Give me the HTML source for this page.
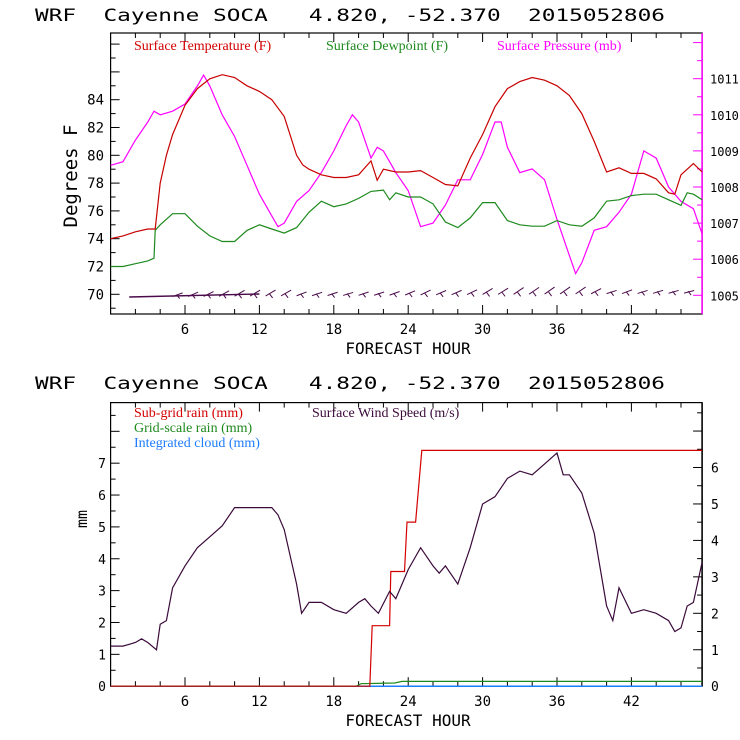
<!DOCTYPE html>
<html><head><meta charset="utf-8"><style>
html,body{margin:0;padding:0;background:#fff;}
svg{display:block;}
.t{font-family:"DejaVu Sans Mono","Liberation Mono",monospace;white-space:pre;}
.s{font-family:"Liberation Serif",serif;}
</style></head><body>
<svg id="c" width="740" height="740" viewBox="0 0 740 740" xmlns="http://www.w3.org/2000/svg">
<text class="t" x="35" y="21" font-size="17" fill="#000" xml:space="preserve" textLength="630" lengthAdjust="spacingAndGlyphs">WRF  Cayenne SOCA   4.820, -52.370  2015052806</text>
<text class="t" x="35" y="389" font-size="17" fill="#000" xml:space="preserve" textLength="630" lengthAdjust="spacingAndGlyphs">WRF  Cayenne SOCA   4.820, -52.370  2015052806</text>
<g id="top"></g>
<g id="bot"></g>
</svg>
<script>
// ---- Top panel data ----
const tempHours=[0,1,2,3,3.6,4,4.5,5,6,7,8,9,10,11,12,13,14,15,15.5,16,17,18,19,20,21,21.5,22,23,24,25,26,27,28,29,30,31,32,33,34,35,36,37,38,39,40,41,42,43,44,45,45.5,46,47,47.7];
const tempVals=[74.0,74.2,74.5,74.7,74.7,78,80,81.5,83.6,84.8,85.5,85.8,85.6,85,84.6,84,82.8,80,79.3,79,78.6,78.4,78.4,78.6,79.6,78.2,79,78.8,78.8,78.9,78.4,77.9,77.8,79.8,81.5,83.5,84.8,85.3,85.6,85.4,85,84.3,83,81,78.8,79.1,78.7,78.7,78.3,77.3,77.2,78.6,79.4,78.8];
const dewHours=[0,1,2,3,3.5,3.6,4,5,6,7,8,9,10,11,12,13,14,15,16,17,18,19,20,21,22,22.5,23,24,25,26,27,28,29,30,31,32,33,34,35,36,37,38,39,40,41,42,43,44,45,46,46.5,47,47.7];
const dewVals=[72,72,72.2,72.4,72.6,74.6,75,75.8,75.8,74.9,74.2,73.8,73.8,74.6,75,74.7,74.4,74.8,75.9,76.7,76.3,76.5,76.9,77.4,77.5,76.8,77.3,77,77,76.5,75.2,74.8,75.5,76.6,76.6,75.3,75,74.9,74.9,75.3,75,74.9,75.5,76.7,76.8,77.1,77.2,77.2,76.8,76.4,77.3,77.2,76.8];
const presHours=[0,1,2,3,3.5,4,5,6,7,7.5,8,9,10,11,12,13,13.5,14,15,16,17,18,19,19.5,20,21,21.5,22,23,24,25,26,27,28,29,30,31,31.5,32,33,34,35,36,37,37.5,38,39,40,41,42,43,44,45,46,47,47.7];
const presVals=[1008.6,1008.7,1009.3,1009.8,1010.1,1010.0,1010.1,1010.3,1010.8,1011.1,1010.8,1010,1009.4,1008.6,1007.8,1007.2,1006.9,1007,1007.6,1007.9,1008.4,1009.0,1009.7,1010.0,1009.8,1008.8,1009.1,1009.0,1008.4,1007.9,1006.9,1007,1007.5,1008.2,1008.2,1008.9,1009.8,1009.8,1009.1,1008.4,1008.5,1008.2,1007.1,1006.1,1005.6,1005.9,1006.8,1006.9,1007.3,1007.8,1009.0,1008.8,1008.0,1007.6,1007.4,1006.7];
const tempTicks=[70,72,74,76,78,80,82,84];
const presTicks=[1005,1006,1007,1008,1009,1010,1011];
const hourTicks=[6,12,18,24,30,36,42];
// ---- Bottom panel data ----
const windHours=[0,1,2,2.5,3,3.7,4,4.5,5,6,7,8,9,10,11,12,13,13.5,14,15,15.4,16,17,18,19,20,20.5,21,21.6,22.5,23,24,25,26,26.5,27,28,29,30,31,32,33,34,35,36,36.5,37,38,39,40,40.5,41,42,43,44,45,45.5,46,46.5,47,47.7];
const windVals=[1.1,1.1,1.2,1.3,1.2,1.0,1.7,1.8,2.7,3.3,3.8,4.1,4.4,4.9,4.9,4.9,4.9,4.7,4.3,2.8,2.0,2.3,2.3,2.1,2.0,2.3,2.4,2.2,2.0,2.6,2.4,3.2,3.8,3.3,3.1,3.3,2.8,3.8,5.0,5.2,5.7,5.9,5.8,6.1,6.4,5.8,5.8,5.3,4.2,2.2,1.8,2.7,2.0,2.1,2.0,1.8,1.5,1.6,2.2,2.3,3.4];
const subHours=[0,20.9,21.1,22.5,22.6,23.7,23.9,24.6,25.1,47.7];
const subVals=[0,0,1.9,1.9,3.6,3.6,5.15,5.15,7.4,7.4];
const gridHours=[0,19.8,20.2,22.9,23.5,47.7];
const gridVals=[0,0,0.08,0.1,0.15,0.15];
const cloudHours=[0,47.7];
const cloudVals=[0,0];
const mmTicks=[0,1,2,3,4,5,6,7];
const windTicks=[0,1,2,3,4,5,6];

const NS='http://www.w3.org/2000/svg';
function mk(parent,tag,attrs){const e=document.createElementNS(NS,tag);for(const k in attrs)e.setAttribute(k,attrs[k]);parent.appendChild(e);return e;}
const X0=110.6,PXH=12.4,XMAX=47.7;
const xh=h=>X0+h*PXH;
const xR=xh(XMAX);
function poly(g,hs,vs,yf,color,name,w){
  const pts=hs.map((h,i)=>xh(h).toFixed(1)+','+yf(vs[i]).toFixed(1)).join(' ');
  const p=mk(g,'polyline',{points:pts,fill:'none',stroke:color,'stroke-width':w||1.2});
  
  
  return p;
}
function panel(g,top,bot,rightColor){
  const f=mk(g,'rect',{x:X0,y:top,width:xR-X0,height:bot-top,fill:'none',stroke:'#000','stroke-width':1.2});
  
  
  const r=mk(g,'line',{x1:xR,y1:top,x2:xR,y2:bot,stroke:rightColor,'stroke-width':1.5});
  
  
  for(let h=2;h<XMAX;h+=2){
    const L=(h%6===0)?9:5;
    mk(g,'line',{x1:xh(h),y1:bot,x2:xh(h),y2:bot-L,stroke:'#000'});
    mk(g,'line',{x1:xh(h),y1:top,x2:xh(h),y2:top+L,stroke:'#000'});
  }
  hourTicks.forEach(h=>{
    const t=mk(g,'text',{x:xh(h),y:bot+20,'font-size':14,'text-anchor':'middle',class:'t'});
    t.textContent=h;
    
    
  });
  const xl=mk(g,'text',{x:408,y:bot+40,'font-size':16,'text-anchor':'middle',class:'t'});
  xl.textContent='FORECAST HOUR';
  
  
}
// ---- top panel ----
(function(){
  const g=document.getElementById('top');
  const TOP=33,BOT=314;
  const yT=v=>294.3-(v-70)*13.9;
  const yP=v=>295.3-(v-1005)*36.1;
  panel(g,TOP,BOT,'#ff00ff');
  for(let v=68;v<=88;v++){const y=yT(v);if(y<TOP+2||y>BOT-2)continue;
    mk(g,'line',{x1:X0,y1:y,x2:X0+(v%2===0?9:5),y2:y,stroke:'#000'});}
  for(let v=1004.5;v<=1012;v+=0.5){const y=yP(v);if(y<TOP+2||y>BOT-2)continue;
    mk(g,'line',{x1:xR,y1:y,x2:xR-(v%1===0?9:5),y2:y,stroke:'#ff00ff'});}
  tempTicks.forEach(v=>{const t=mk(g,'text',{x:104,y:yT(v)+5,'font-size':14,'text-anchor':'end',class:'t'});t.textContent=v;
    });
  presTicks.forEach(v=>{const t=mk(g,'text',{x:710,y:yP(v)+5,'font-size':12,class:'t'});t.textContent=v;
    });
  const yl=mk(g,'text',{x:0,y:0,'font-size':19,'text-anchor':'middle',class:'t',transform:'translate(77,176) rotate(-90)'});
  yl.textContent='Degrees F';
  const leg=[['Surface Temperature (F)','#d40000',134],['Surface Dewpoint (F)','#1e8a1e',326],['Surface Pressure (mb)','#ff00ff',497]];
  leg.forEach(l=>{const t=mk(g,'text',{x:l[2],y:50,'font-size':14,fill:l[1],class:'s'});t.textContent=l[0];
    });
  // wind barbs, one per interval using nearest wind sample
  const bg=mk(g,'g',{stroke:'#4a0a4a','stroke-width':1,fill:'none'});
  
  const base=297;
  mk(bg,'line',{x1:xh(1.5),y1:base,x2:xh(12),y2:base-3,'stroke-width':1.4});
  for(let h=5;h<=47;h+=1.25){
    let k=0;for(let i=0;i<windHours.length;i++){if(Math.abs(windHours[i]-h)<Math.abs(windHours[k]-h))k=i;}
    const x=xh(h),y=base-(h/47.7)*4;
    const a=Math.min(1,windVals[k]/6);
    mk(bg,'line',{x1:x,y1:y,x2:x+10,y2:y-1-a*6});
    mk(bg,'line',{x1:x+4,y1:y-2,x2:x+7,y2:y+2});
  }
  poly(g,presHours,presVals,yP,'#ff00ff','pressure-line',1.2);
  poly(g,dewHours,dewVals,yT,'#1e8a1e','dewpoint-line',1.2);
  poly(g,tempHours,tempVals,yT,'#c80000','temperature-line',1.2);
})();
// ---- bottom panel ----
(function(){
  const g=document.getElementById('bot');
  const TOP=402.6,BOT=686.2;
  const yM=v=>686.2-v*31.86;
  const yW=v=>686.2-v*36.45;
  panel(g,TOP,BOT,'#000');
  for(let v=0;v<=8.5;v+=0.5){const y=yM(v);if(y<TOP+2||y>BOT-2)continue;
    mk(g,'line',{x1:X0,y1:y,x2:X0+(v%1===0?9:5),y2:y,stroke:'#000'});}
  for(let v=0;v<=7.5;v+=0.5){const y=yW(v);if(y<TOP+2||y>BOT-2)continue;
    mk(g,'line',{x1:xR,y1:y,x2:xR-(v%1===0?9:5),y2:y,stroke:'#000'});}
  mmTicks.forEach(v=>{const t=mk(g,'text',{x:106,y:yM(v)+5,'font-size':13,'text-anchor':'end',class:'t'});t.textContent=v;
    });
  windTicks.forEach(v=>{const t=mk(g,'text',{x:711,y:yW(v)+5,'font-size':13,class:'t'});t.textContent=v;
    });
  const yl=mk(g,'text',{x:0,y:0,'font-size':15,'text-anchor':'middle',class:'t',transform:'translate(87,519) rotate(-90)'});
  yl.textContent='mm';
  const leg=[['Sub-grid rain (mm)','#d40000',134,417],['Grid-scale rain (mm)','#1e8a1e',134,432],['Integrated cloud (mm)','#1e7cff',134,447],['Surface Wind Speed (m/s)','#3a0a3a',312,417]];
  leg.forEach(l=>{const t=mk(g,'text',{x:l[2],y:l[3],'font-size':14,fill:l[1],class:'s'});t.textContent=l[0];
    });
  poly(g,cloudHours,cloudVals,yM,'#1e7cff','cloud-line',1.5);
  poly(g,gridHours,gridVals,yM,'#1e8a1e','grid-rain-line',1.2);
  poly(g,subHours,subVals,yM,'#d40000','subgrid-rain-line',1.2);
  poly(g,windHours,windVals,yW,'#3a0a3a','wind-speed-line',1.2);
})();
</script>
</body></html>
